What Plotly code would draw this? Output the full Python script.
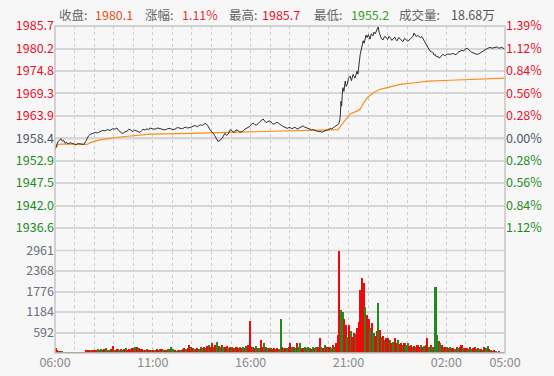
import plotly.graph_objects as go

# ---------------- data ----------------
base_price = 1958.4

# price line: minutes after 06:00, price
price_min = [0, 4, 9, 14, 18, 22, 26, 31, 36, 40, 46, 52, 58, 64, 70, 77, 83, 89, 94, 98,
             103, 107, 115, 123, 130, 138, 146, 153, 161, 169, 176, 184, 190, 195, 199, 204, 209, 215, 221, 226,
             230, 235, 239, 244, 248, 254, 261, 266, 270, 276, 282, 287, 291, 299, 307, 315, 322, 330, 337, 345,
             353, 360, 368, 375, 383, 391, 399, 406, 414, 421, 429, 437, 445, 452, 460, 465, 469, 475, 480, 485,
             490, 494, 500, 503, 506, 512, 516, 521, 526, 531, 537, 543, 549, 555, 561, 567, 574, 580, 586, 592,
             598, 603, 607, 612, 617, 623, 629, 634, 638, 643, 647, 653, 660, 665, 669, 675, 681, 686, 690, 695,
             699, 706, 712, 717, 721, 726, 730, 736, 742, 748, 752, 757, 761, 766, 770, 776, 782, 787, 791, 797,
             804, 808, 813, 818, 822, 826, 831, 837, 844, 849, 853, 858, 862, 866, 870, 873, 875, 877, 879, 881,
             883, 886, 890, 893, 896, 900, 905, 909, 914, 920, 926, 929, 932, 934, 936, 940, 945, 948, 951, 954,
             957, 961, 966, 970, 975, 978, 982, 986, 991, 994, 997, 1001, 1006, 1010, 1015, 1020, 1024, 1028, 1033, 1037,
             1042, 1045, 1049, 1054, 1058, 1063, 1067, 1072, 1077, 1082, 1089, 1094, 1098, 1101, 1104, 1108, 1113, 1117, 1120, 1125,
             1129, 1132, 1135, 1140, 1144, 1147, 1150, 1155, 1160, 1163, 1166, 1170, 1175, 1178, 1181, 1186, 1190, 1195, 1199, 1205,
             1212, 1218, 1224, 1230, 1236, 1242, 1248, 1253, 1258, 1264, 1268, 1273, 1278, 1282, 1288, 1294, 1299, 1304, 1308, 1313,
             1319, 1325, 1330, 1334, 1340, 1347, 1352, 1356, 1361, 1365, 1370, 1374, 1380]
price = [1955.6, 1956.8, 1957.6, 1957.9, 1958.3, 1957.7, 1957.9, 1957.2, 1957.4, 1957.0, 1957.3, 1957.2, 1956.9, 1956.8, 1957.1, 1957.0, 1956.8, 1956.9, 1957.6, 1958.4,
         1959.0, 1959.3, 1959.6, 1959.8, 1959.7, 1960.0, 1960.3, 1960.2, 1960.5, 1960.3, 1960.7, 1960.6, 1960.9, 1960.3, 1960.0, 1959.7, 1959.6, 1960.0, 1960.1, 1960.6,
         1960.5, 1960.1, 1960.0, 1960.4, 1960.3, 1960.0, 1959.8, 1960.3, 1960.6, 1960.4, 1960.7, 1960.5, 1960.9, 1960.7, 1960.6, 1960.9, 1960.7, 1960.5, 1960.4, 1960.7,
         1960.8, 1960.5, 1960.6, 1961.0, 1960.9, 1960.7, 1961.1, 1960.9, 1961.0, 1961.3, 1961.5, 1961.2, 1961.7, 1961.5, 1962.0, 1961.8, 1961.4, 1960.5, 1960.1, 1959.6,
         1959.0, 1958.4, 1957.6, 1957.8, 1957.9, 1958.3, 1959.0, 1959.6, 1959.1, 1959.4, 1960.5, 1960.1, 1959.8, 1960.4, 1960.3, 1959.9, 1960.0, 1960.5, 1960.7, 1960.9,
         1961.3, 1961.8, 1962.1, 1961.8, 1961.6, 1962.0, 1962.4, 1962.6, 1963.1, 1962.6, 1962.2, 1962.5, 1962.6, 1962.1, 1961.8, 1962.0, 1962.3, 1962.0, 1961.7, 1961.5,
         1961.3, 1961.1, 1960.8, 1961.0, 1961.0, 1960.7, 1960.9, 1961.1, 1960.6, 1960.8, 1961.0, 1961.2, 1961.4, 1961.1, 1960.9, 1960.8, 1960.6, 1960.4, 1960.5, 1960.3,
         1960.2, 1960.0, 1960.1, 1959.9, 1960.0, 1960.2, 1960.3, 1960.4, 1960.8, 1960.6, 1961.0, 1961.2, 1961.4, 1961.6, 1961.9, 1962.6, 1964.0, 1967.4, 1966.2, 1969.0,
         1970.7, 1969.8, 1972.3, 1971.0, 1971.5, 1973.0, 1973.5, 1972.4, 1973.9, 1973.0, 1974.7, 1974.0, 1975.5, 1977.5, 1978.8, 1980.5, 1982.1, 1981.5, 1982.6, 1983.5,
         1982.9, 1983.6, 1982.5, 1983.8, 1983.3, 1984.2, 1983.8, 1984.8, 1985.5, 1984.2, 1983.5, 1982.6, 1982.3, 1983.1, 1983.0, 1982.4, 1983.2, 1982.9, 1982.2, 1982.5,
         1983.0, 1982.4, 1982.1, 1982.9, 1982.6, 1982.0, 1981.9, 1982.7, 1982.4, 1982.0, 1982.5, 1983.0, 1983.2, 1984.0, 1983.7, 1983.1, 1983.4, 1983.0, 1982.9, 1983.1,
         1982.5, 1982.1, 1981.7, 1981.2, 1980.5, 1980.0, 1979.6, 1979.4, 1979.2, 1978.6, 1978.8, 1978.2, 1978.3, 1977.9, 1978.0, 1978.6, 1978.8, 1978.5, 1978.6, 1978.9,
         1978.8, 1979.0, 1978.9, 1978.7, 1979.3, 1979.5, 1979.8, 1979.6, 1980.1, 1980.3, 1979.9, 1979.6, 1979.3, 1979.2, 1979.0, 1978.8, 1978.9, 1979.1, 1979.4, 1979.6,
         1979.9, 1980.2, 1980.4, 1980.5, 1980.3, 1980.4, 1980.6, 1980.6, 1980.3, 1980.4, 1980.5, 1980.3, 1980.1]

# average price line
avg_min = [0, 9, 30, 60, 98, 110, 138, 199, 291, 420, 598, 752, 868, 880, 896, 905, 926, 936, 945, 957,
           975, 997, 1028, 1058, 1104, 1144, 1212, 1264, 1325, 1380]
avg = [1955.7, 1956.9, 1957.0, 1956.9, 1956.9, 1957.4, 1958.0, 1958.7, 1959.4, 1959.6, 1960.0, 1960.3, 1960.5, 1961.8, 1963.5, 1964.3, 1965.0, 1965.5, 1966.8, 1968.2,
       1969.4, 1970.3, 1970.9, 1971.5, 1971.9, 1972.3, 1972.5, 1972.7, 1972.9, 1973.0]

# volume, 5-minute buckets, one row per hour starting 06:00
vol_rows = [
    [150, 110, 70, 60, 70, 50, 40, 35, 35, 30, 30, 30],          # 06
    [30, 35, 30, 30, 35, 30, 40, 90, 100, 90, 110, 95],          # 07
    [90, 110, 130, 100, 140, 90, 120, 150, 100, 90, 130, 220],   # 08
    [100, 90, 120, 110, 130, 100, 120, 150, 110, 140, 120, 160], # 09
    [160, 200, 180, 150, 120, 130, 110, 100, 120, 90, 110, 100], # 10
    [110, 90, 130, 100, 120, 140, 100, 110, 90, 130, 120, 180],  # 11
    [120, 100, 80, 90, 110, 100, 130, 150, 120, 160, 260, 180],  # 12
    [150, 120, 140, 160, 130, 180, 150, 200, 170, 220, 260, 200],# 13
    [310, 200, 250, 340, 220, 180, 250, 200, 180, 220, 160, 200],# 14
    [200, 170, 150, 180, 160, 200, 150, 180, 170, 220, 260, 940],# 15
    [200, 180, 160, 220, 150, 170, 380, 200, 290, 180, 150, 170],# 16
    [150, 130, 160, 120, 150, 140, 990, 200, 160, 170, 150, 180],# 17
    [310, 180, 200, 150, 300, 180, 290, 160, 150, 200, 170, 190],# 18
    [170, 140, 190, 160, 200, 180, 435, 200, 160, 240, 180, 200],# 19
    [200, 170, 250, 200, 290, 530, 2961, 1250, 1200, 1010, 820, 480],   # 20
    [820, 650, 480, 600, 560, 725, 900, 1830, 2170, 2030, 1350, 1100], # 21
    [1010, 728, 870, 600, 500, 650, 1450, 675, 480, 520, 400, 450],    # 22
    [435, 380, 290, 320, 435, 300, 385, 280, 310, 260, 300, 240],      # 23
    [290, 220, 260, 200, 230, 190, 240, 200, 250, 180, 220, 260],      # 00
    [435, 200, 250, 180, 190, 1930, 530, 350, 290, 240, 200, 190],     # 01
    [180, 160, 200, 150, 160, 140, 180, 150, 200, 260, 170, 150],      # 02
    [160, 140, 180, 120, 150, 175, 130, 160, 120, 140, 110, 175],      # 03
    [150, 210, 120, 100, 80, 90, 60, 50, 60, 40, 50, 40],              # 04
]
# r = up (red), g = down (green)
vol_dirs = [
    "rrgrgrgrgrrg", "ggrrgrgrrrgr", "rrgrgrrgrgrr", "grrgrgrgrrgr",
    "rgrgrrgrgrrg", "rgrrgrgrrgrg", "grrgrgrrgrrg", "rgrrgrgrgrgr",
    "rgrgrgrgrrgr", "grgrrgrgrgrr", "rgrgrgrrgrgr", "grrgrggrgrgr",
    "rgrgrggrrgrg", "grgrgrrgrgrg", "rgrgrrrggrrg", "rgrrgrrrrrgr",
    "rgrgrrgrgrgr", "rgrgrrgrrgrg", "grrgrgrrgrgr", "rgrgrggrgrgr",
    "grgrrgrgrrgr", "rgrgrrgrgrgr", "ggrgrrgrrgrr",
]

price_ticks = [1985.7, 1980.2, 1974.8, 1969.3, 1963.9, 1958.4, 1952.9, 1947.5, 1942.0, 1936.6]
pct_labels = ["1.39%", "1.12%", "0.84%", "0.56%", "0.28%", "0.00%", "0.28%", "0.56%", "0.84%", "1.12%"]
price_low_edge = 1931.1
vol_ticks = [592, 1184, 1776, 2368, 2961]
vol_max = 2961
time_ticks = [0, 300, 600, 900, 1200, 1380]
time_labels = ["06:00", "11:00", "16:00", "21:00", "02:00", "05:00"]

header_labels = ["收盘:", "涨幅:", "最高:", "最低:", "成交量:"]
header_values = ["1980.1", "1.11%", "1985.7", "1955.2", "18.68万"]

# ---------------- styling ----------------
W, H = 554, 376
ML, MR, MT, MB = 55, 49, 26, 23
PH = H - MT - MB
PW = W - ML - MR
vol_frac = (353 - 250.5) / PH

RED = "#e8102a"
GREEN = "#1e8c1e"
NEUTRAL = "#4d5566"
GRAY_TXT = "#8a8a8a"
FONT = "Noto Sans CJK SC, Microsoft YaHei, sans-serif"


def colored(text, color):
    return f'<span style="color:{color}">{text}</span>'


left_text, right_text = [], []
for v, p in zip(price_ticks, pct_labels):
    c = RED if v > base_price else (GREEN if v < base_price else NEUTRAL)
    left_text.append(colored(f"{v:.1f}", c))
    right_text.append(colored(p, c))

vol_x, vol_y, vol_c = [], [], []
for h, (row, dirs) in enumerate(zip(vol_rows, vol_dirs)):
    for i, (v, d) in enumerate(zip(row, dirs)):
        vol_x.append(60 * h + 5 * i + 2.5)
        vol_y.append(v)
        vol_c.append("#ee0a0a" if d == "r" else "#1f8a1f")

fig = go.Figure()
fig.add_trace(go.Bar(x=vol_x, y=vol_y, marker=dict(color=vol_c, line=dict(width=0)),
                     width=5, xaxis="x", yaxis="y3", hoverinfo="skip"))
fig.add_trace(go.Scatter(x=avg_min, y=avg, mode="lines", line=dict(color="#ff8c1a", width=1.2),
                         xaxis="x", yaxis="y", hoverinfo="skip"))
fig.add_trace(go.Scatter(x=price_min, y=price, mode="lines", line=dict(color="#2e2e2e", width=1),
                         xaxis="x", yaxis="y", hoverinfo="skip"))
fig.add_trace(go.Scatter(x=[time_ticks[0]], y=[base_price], mode="markers", marker=dict(opacity=0),
                         xaxis="x", yaxis="y2", hoverinfo="skip"))

grid_c = "#d6d6d6"
fig.update_layout(
    width=W, height=H,
    margin=dict(l=ML, r=MR, t=MT, b=MB, pad=0, autoexpand=False),
    paper_bgcolor="#f7f7f7", plot_bgcolor="#f7f7f7",
    showlegend=False, bargap=0,
    font=dict(family=FONT, size=12, color=GRAY_TXT),
    xaxis=dict(domain=[0, 1], range=[0, 1380], anchor="y3", automargin=False,
               tickvals=time_ticks, ticktext=time_labels, ticks="",
               tickfont=dict(size=12.5, color=GRAY_TXT),
               showgrid=True, gridcolor="#cdcdcd", griddash="dot", gridwidth=1,
               minor=dict(dtick=60, tick0=0, showgrid=True, gridcolor="#cdcdcd", griddash="dot", gridwidth=1),
               zeroline=False, showline=False),
    yaxis=dict(domain=[vol_frac, 1], range=[price_low_edge, price_ticks[0]], anchor="x", automargin=False,
               tickvals=price_ticks, ticktext=left_text, ticks="",
               tickfont=dict(size=12.5),
               showgrid=True, gridcolor=grid_c, gridwidth=1.5, zeroline=False, showline=False),
    yaxis2=dict(overlaying="y", side="right", anchor="x", automargin=False,
                range=[price_low_edge, price_ticks[0]],
                tickvals=price_ticks, ticktext=right_text, ticks="",
                tickfont=dict(size=12.5),
                showgrid=False, zeroline=False, showline=False),
    yaxis3=dict(domain=[0, vol_frac], range=[0, vol_max], anchor="x", automargin=False,
                tickvals=vol_ticks, ticktext=[str(v) for v in vol_ticks], ticks="",
                tickfont=dict(size=12.5, color="#6a7080"),
                showgrid=True, gridcolor=grid_c, gridwidth=1.5, zeroline=False, showline=False),
)

# frame and base line
fig.add_shape(type="rect", xref="paper", yref="paper", x0=0, x1=1, y0=0, y1=1,
              line=dict(color="#c6c6c6", width=1.5), fillcolor="rgba(0,0,0,0)", layer="above")
fig.add_shape(type="line", xref="paper", yref="paper", x0=0, x1=1, y0=vol_frac, y1=vol_frac,
              line=dict(color=grid_c, width=1.5), layer="below")
fig.add_shape(type="line", xref="paper", yref="y", x0=0, x1=1, y0=base_price, y1=base_price,
              line=dict(color="#b4b4b4", width=2), layer="below")

# header
label_px = [57, 143, 227, 312, 397]
value_px = [93, 180, 260, 349, 449]
value_colors = ["#e8501e", "#e8303a", RED, "#3d9a2d", "#555555"]
yh = 1 + (MT - 15) / PH
for lab, lx, val, vx, vc in zip(header_labels, label_px, header_values, value_px, value_colors):
    fig.add_annotation(text=lab, x=(lx - ML) / PW, y=yh, xref="paper", yref="paper",
                       xanchor="left", yanchor="middle", showarrow=False,
                       font=dict(size=12.5, color="#666666", family=FONT))
    fig.add_annotation(text=val, x=(vx - ML) / PW, y=yh, xref="paper", yref="paper",
                       xanchor="left", yanchor="middle", showarrow=False,
                       font=dict(size=12.5, color=vc, family=FONT))

fig.write_html("out.html",
               config={"displayModeBar": False},
               post_script="document.body.style.margin='0';document.body.style.background='#f7f7f7';")
